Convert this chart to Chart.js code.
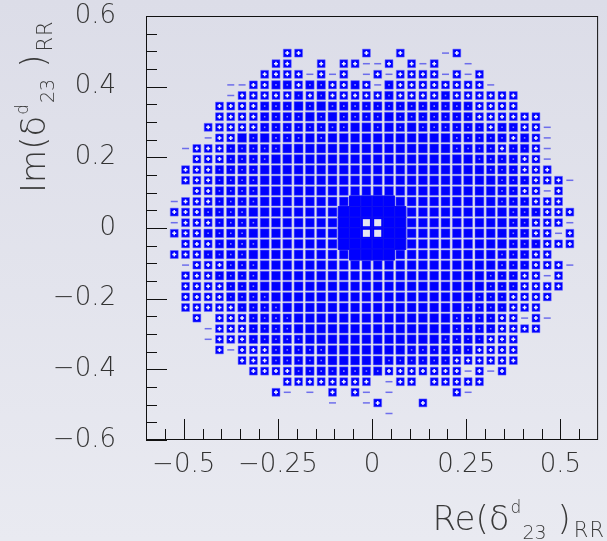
<!DOCTYPE html>
<html>
<head>
<meta charset="utf-8">
<script src="https://cdn.jsdelivr.net/npm/chart.js@4.4.0/dist/chart.umd.min.js"></script>
<style>
body { margin: 0; background: #e3e4ed; }
#wrap { width: 607px; height: 541px; }
</style>
</head>
<body>
<div id="wrap"><canvas id="myChart" width="607" height="541"></canvas></div>
<script>
// 40 x 40 bins over [-0.6, 0.6] in Re and Im
const xLow = -0.6
const yHigh = 0.6
const binWidth = 0.03
const xTickLabels = [-0.5, -0.25, 0, 0.25, 0.5]
const yTickLabels = [-0.6, -0.4, -0.2, 0, 0.2, 0.4, 0.6]

// one string per Im bin (top first), one char per Re bin (left first)
// . empty  - tiny  o small  m medium  X full  C core  W core with hole
const rows = [
  "........................................",
  "........................................",
  "........................................",
  "............oo.....o..o...-o............",
  "...........oo..o.oo--o.o-o..-...........",
  "..........oooo-o-o.-o-oooo-o-o..........",
  ".......--oommommoomo-moooooooo-.........",
  ".......-ooooomomooooomoooomoooooo.......",
  "......oooommmXmXmmmmmmmmmmmmmoooo.......",
  "......oooommmmXmXmmmmXmmmmmmmoooooo.....",
  ".....ooooommmmmmmmXXmXmXmmmmmmommoo-....",
  ".....-ooXmXmmmXmXXXXXXXXXXXmmmmmomo-....",
  "...-ooommmmmXXXXXXXXXXXXXXXmmmmommo-....",
  "....ooommmmXXXXXXXXXXXXXXXXXXmmmmoo-....",
  "...ooommmmXXXXXXXXXXXXXXXXXXXXmmmooo....",
  "...ooommmmXXXXXXXXXXXXXXXXXXXXXmmmooo-..",
  "....oommmmXXXXXXXXXXXXXXXXXXXXXmmoo-o...",
  "..-ooommmmXXXXXXXXCCCCXXXXXXXXXmmmooo...",
  "..ooommmmXXXXXXXXCCCCCCXXXXXXXXXmmmooo..",
  "..-ooommmmXXXXXXXCCWWCCXXXXXXXXXmmooo-..",
  "..ooommmmXXXXXXXXCCWWCCXXXXXXXXXmmoo-o..",
  "...ooommmmXXXXXXXCCCCCCXXXXXXXXXmmmooo..",
  "..ooommmmXXXXXXXXXCCCCXXXXXXXXXmmmoo....",
  "...-ooommmXXXXXXXXXXXXXXXXXXXXXmmmooo-..",
  "...ooommmmXXXXXXXXXXXXXXXXXXXXmmmoo-o...",
  "...oooommmXXXXXXXXXXXXXXXXXXXXmmmoooo...",
  "...oooommmmXXXXXXXXXXXXXXXXXXmmmoooo....",
  "...ooooommmmXXXXXXXXXXXXXXXXmmmmooo.....",
  "....o.ooommmmXXXXXXXXXXXXXXmmmmoo-o-....",
  ".....-ooommmmXXXXXXXXXXXXXXmmmmoooo.....",
  ".....-ooommmmmXXXXXXXXXXXXmmmmooo.......",
  "......o-ooommmmmXXXXXXXmmmmmmoooo.......",
  "........ooommmmmXXXXXmmmmmmoooooo.......",
  ".........oooommmmmmmmooooooo-o-o........",
  "............oooooooo.-oo.ooooo..........",
  "...........o-.-.o.o-.-.....o-...........",
  "................-..-o...o...............",
  ".....................-..................",
  "........................................",
  "........................................"
]

const fontFamily = "'DejaVu Sans', sans-serif"
const blue = '#0000ff'
const halo = 'rgba(100,100,255,0.5)'

function pointsFor(codes) {
  const pts = []
  rows.forEach((row, j) => {
    for (let i = 0; i < row.length; i++) {
      if (codes.indexOf(row[i]) >= 0) {
        pts.push({ x: xLow + (i + 0.5) * binWidth, y: yHigh - (j + 0.5) * binWidth })
      }
    }
  })
  return pts
}

function box(codes, r, extra) {
  return Object.assign({
    data: pointsFor(codes),
    pointStyle: 'rect',
    pointRadius: r,
    pointHoverRadius: r,
    pointBackgroundColor: blue,
    pointBorderColor: halo,
    pointBorderWidth: 1
  }, extra || {})
}

function fmt(v) {
  if (Math.abs(v) < 1e-9) return '0'
  return (v < 0 ? '\u2212' : '') + String(Math.abs(v))
}

// pieces of the axis titles, with script sizes and offsets
function titleParts(head) {
  return [
    { t: head, size: 34, dy: 0, gap: 0, sp: 0 },
    { t: '(', size: 34, dy: 0, gap: 0, sp: 0 },
    { t: '\u03b4', size: 34, dy: 0, gap: 0, sp: 0 },
    { t: 'd', size: 17, dy: -17, gap: 1, sp: 0 },
    { t: '23', size: 19, dy: 9, gap: 1, sp: 0 },
    { t: ')', size: 34, dy: 0, gap: 11, sp: 0 },
    { t: 'RR', size: 21, dy: 7, gap: 3, sp: 1 }
  ]
}

function setFont(ctx, p) {
  ctx.font = '200 ' + p.size + 'px ' + fontFamily
  ctx.letterSpacing = p.sp + 'px'
}

function partsWidth(ctx, parts) {
  let w = 0
  parts.forEach(p => {
    setFont(ctx, p)
    w += p.gap + ctx.measureText(p.t).width
  })
  return w
}

function drawParts(ctx, parts, x0, y0) {
  let x = x0
  parts.forEach(p => {
    setFont(ctx, p)
    x += p.gap
    ctx.fillText(p.t, x, y0 + p.dy)
    x += ctx.measureText(p.t).width
  })
  ctx.letterSpacing = '0px'
}

const frame = {
  id: 'frame',
  beforeDraw(chart) {
    const c = chart.ctx
    const g = c.createLinearGradient(0, 0, 0, chart.height)
    g.addColorStop(0, '#dcdde8')
    g.addColorStop(1, '#e9eaf1')
    c.save()
    c.fillStyle = g
    c.fillRect(0, 0, chart.width, chart.height)
    c.restore()
  },
  afterDraw(chart) {
    const c = chart.ctx
    const a = chart.chartArea
    const xs = chart.scales.x
    const ys = chart.scales.y
    c.save()
    c.strokeStyle = '#111'
    c.lineWidth = 1
    c.strokeRect(a.left + 0.5, a.top + 0.5, a.right - a.left - 1, a.bottom - a.top - 1)
    c.beginPath()
    for (let k = -12; k <= 12; k++) {
      const v = k * 0.05
      const major = yTickLabels.some(t => Math.abs(t - v) < 1e-6)
      const py = Math.round(ys.getPixelForValue(v)) + 0.5
      c.moveTo(a.left, py)
      c.lineTo(a.left + (major ? 21 : 11), py)
      const majorX = xTickLabels.some(t => Math.abs(t - v) < 1e-6)
      const px = Math.round(xs.getPixelForValue(v)) + 0.5
      if (px > a.left + 1 && px < a.right - 1) {
        c.moveTo(px, a.bottom)
        c.lineTo(px, a.bottom - (majorX ? 21 : 11))
      }
    }
    c.stroke()

    c.fillStyle = '#3a3a3a'
    c.textBaseline = 'alphabetic'
    c.textAlign = 'left'
    const xp = titleParts('Re')
    drawParts(c, xp, 605 - partsWidth(c, xp), 530)
    c.translate(45, 193)
    c.rotate(-Math.PI / 2)
    drawParts(c, titleParts('Im'), 0, 0)
    c.restore()
  }
}

const ctx = document.getElementById('myChart')

new Chart(ctx, {
  type: 'scatter',
  data: {
    datasets: [
      box('W', 5, { pointBackgroundColor: '#e6e7f2', pointBorderWidth: 0 }),
      { data: pointsFor('o'), pointStyle: 'cross', pointRadius: 2, pointHoverRadius: 2,
        pointBorderColor: '#eef0ff', pointBorderWidth: 1.5 },
      box('m', 1.1, { pointBackgroundColor: '#8c8cff', pointBorderWidth: 0 }),
      box('CW', 7.9, { pointBorderColor: '#1010f0' }),
      box('X', 6.3),
      box('m', 6.0),
      box('o', 5.6),
      { data: pointsFor('-'), pointStyle: 'line', pointRadius: 3.5, pointHoverRadius: 3.5,
        pointBorderColor: 'rgba(60,60,235,0.7)', pointBorderWidth: 1.5 }
    ]
  },
  options: {
    responsive: false,
    animation: false,
    layout: { padding: { left: 0, right: 2, top: 16, bottom: 0 } },
    plugins: { legend: { display: false }, tooltip: { enabled: false } },
    scales: {
      x: {
        type: 'linear', min: -0.6, max: 0.6,
        grid: { display: false, drawTicks: false },
        border: { display: false },
        afterBuildTicks: s => { s.ticks = xTickLabels.map(v => ({ value: v })) },
        afterFit: s => { s.height = 101; s.paddingLeft = 0; s.paddingRight = 0 },
        ticks: { font: { family: fontFamily, size: 26, weight: '200' }, color: '#333',
                 padding: 10, maxRotation: 0, autoSkip: false, callback: fmt }
      },
      y: {
        type: 'linear', min: -0.6, max: 0.6,
        grid: { display: false, drawTicks: false },
        border: { display: false },
        afterBuildTicks: s => { s.ticks = yTickLabels.map(v => ({ value: v })) },
        afterFit: s => { s.width = 146; s.paddingTop = 0; s.paddingBottom = 0 },
        ticks: { font: { family: fontFamily, size: 26, weight: '200' }, color: '#333',
                 padding: 30, autoSkip: false, callback: fmt }
      }
    }
  },
  plugins: [frame]
})
</script>
</body>
</html>
